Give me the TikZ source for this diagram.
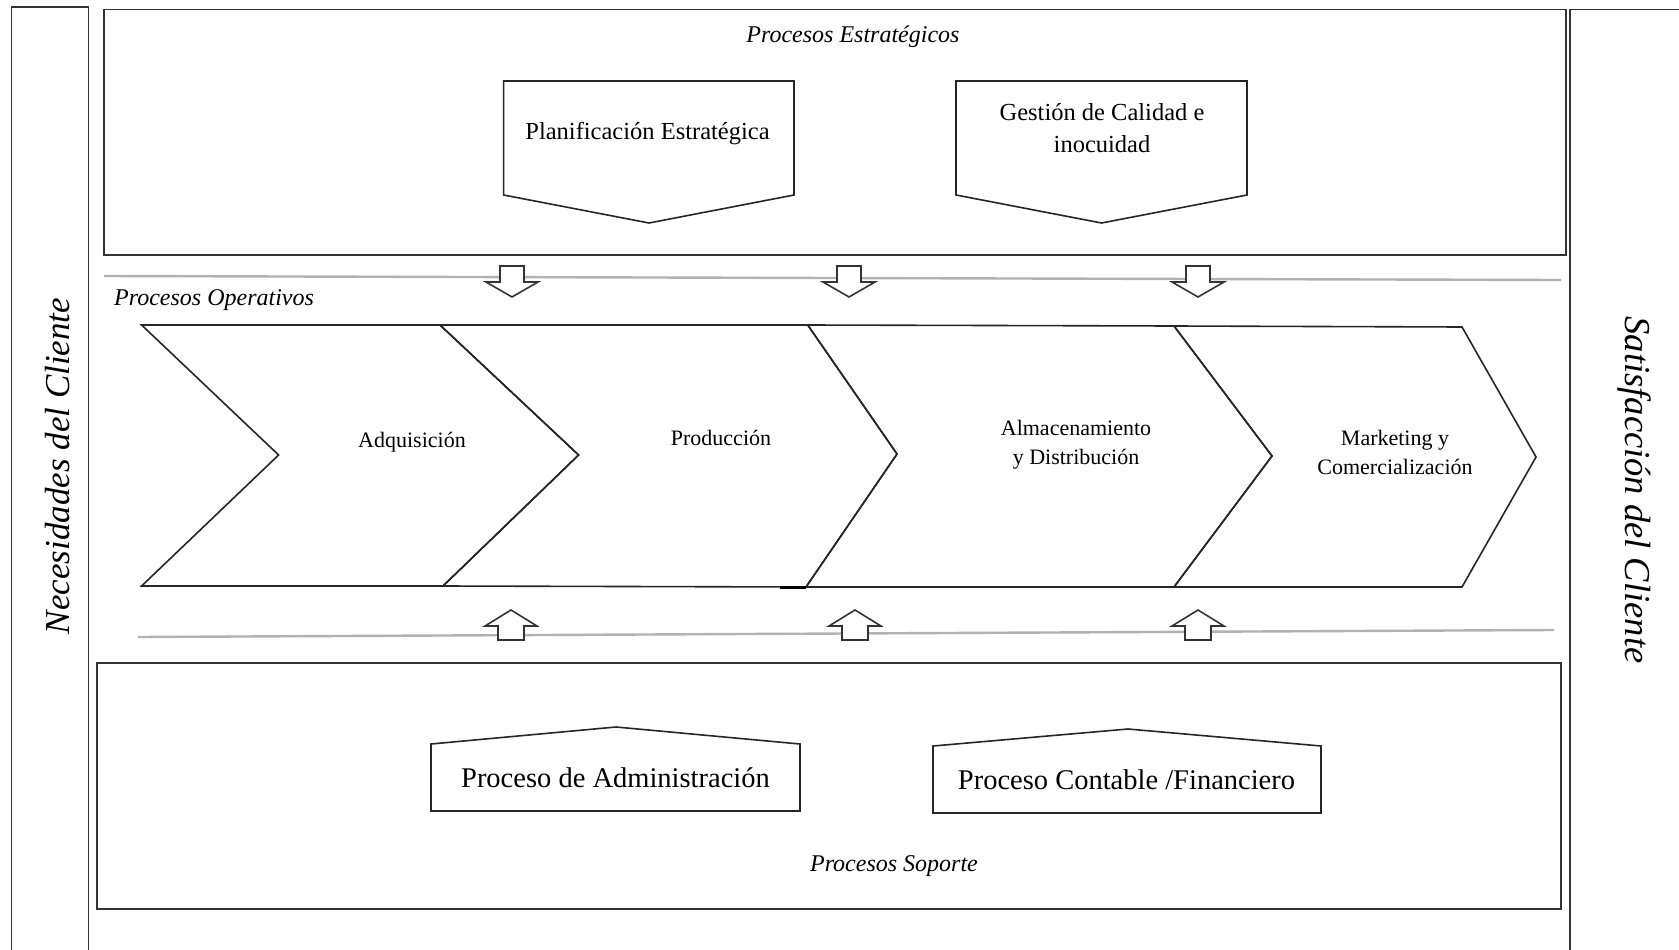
\documentclass[tikz,border=0pt]{standalone}
\usepackage{fontspec}
\setmainfont{Liberation Serif}
\begin{document}
\begin{tikzpicture}[x=1pt,y=-1pt,
  frame/.style={draw=black!80, line width=1.8pt},
  shapeline/.style={draw=black!85, line width=1.6pt, line join=miter},
  guide/.style={draw=black!30, line width=2.4pt},
  blockarrow/.style={draw=black!80, fill=white, line width=1.6pt, line join=miter},
  title/.style={font=\fontsize{24}{29}\selectfont\itshape, inner sep=0pt},
  steplabel/.style={font=\fontsize{22}{29}\selectfont, align=center, inner sep=0pt},
  stratlabel/.style={font=\fontsize{24.5}{32}\selectfont, align=center, inner sep=0pt},
  supportlabel/.style={font=\fontsize{28.5}{34}\selectfont, inner sep=0pt},
  sidelabel/.style={font=\fontsize{35}{40}\selectfont\itshape, inner sep=0pt},
]
\useasboundingbox[fill=white] (0,0) rectangle (1679,950);

% side columns (open at the bottom)
\draw[frame] (11.5,955) -- (11.5,7) -- (88.5,7) -- (88.5,955);
\draw[frame] (1570,955) -- (1570,9.5) -- (1685,9.5);

% strategic and support frames
\draw[frame] (104,9.5) rectangle (1566,255);
\draw[frame] (97,663) rectangle (1561,909);

% grey separators of the operative band
\draw[guide] (104,276) -- (1561,280);
\draw[guide] (138,637) -- (1554,630);

% block arrows down from the strategic band
\foreach \cx in {512,849,1198}
  \draw[blockarrow] (\cx-12,266) -- (\cx+12,266) -- (\cx+12,282) -- (\cx+26,282)
    -- (\cx,297) -- (\cx-26,282) -- (\cx-12,282) -- cycle;

% block arrows up from the support band
\foreach \cx in {511,855,1198}
  \draw[blockarrow] (\cx,610) -- (\cx+26,626) -- (\cx+13,626) -- (\cx+13,640)
    -- (\cx-13,640) -- (\cx-13,626) -- (\cx-26,626) -- cycle;

% strategic processes (pentagons pointing down)
\draw[shapeline] (503.6,81) -- (794,81) -- (794,195) -- (649,223) -- (503.6,195) -- cycle;
\draw[shapeline] (956,81) -- (1247,81) -- (1247,195) -- (1101.5,223) -- (956,195) -- cycle;

% support processes (pentagons pointing up)
\draw[shapeline] (431,744) -- (616,727) -- (800,744) -- (800,811) -- (431,811) -- cycle;
\draw[shapeline] (933,746) -- (1128,729) -- (1321,746) -- (1321,813) -- (933,813) -- cycle;

% operative chain of chevrons
\draw[shapeline] (141.6,325) -- (440,325) -- (578.6,455) -- (443,586) -- (141.6,586) -- (278.6,455) -- cycle;
\draw[shapeline] (440,325) -- (807.7,325) -- (897,454) -- (806,587) -- (443,586) -- (578.6,455) -- cycle;
\draw[shapeline] (807.7,325) -- (1174,326) -- (1272,456) -- (1174,587) -- (806,587) -- (897,454) -- cycle;
\draw[shapeline] (1174,326) -- (1462,327) -- (1536,457) -- (1462,587) -- (1174,587) -- (1272,456) -- cycle;
\draw[draw=black, line width=3pt] (780,587) -- (806,587);

% texts (multi-line labels are placed by the baseline of their last line)
\node[title, anchor=base] (estr) at (853,43) {Procesos Estratégicos};
\node[title, anchor=base west] (oper) at (114,305) {Procesos Operativos};
\node[title, anchor=base] (sop) at (894,871) {Procesos Soporte};

\node[stratlabel, anchor=base] (plan) at (647.5,139) {Planificación Estratégica};
\node[stratlabel, anchor=base] (cal) at (1102,152) {Gestión de Calidad e\\inocuidad};

\node[steplabel, anchor=base] (adq) at (412,447) {Adquisición};
\node[steplabel, anchor=base] (prod) at (721,445) {Producción};
\node[steplabel, anchor=base] (alm) at (1076,464) {Almacenamiento\\y Distribución};
\node[steplabel, anchor=base] (mkt) at (1395,474) {Marketing y\\Comercialización};

\node[supportlabel, anchor=base] (adm) at (615.5,787) {Proceso de Administración};
\node[supportlabel, anchor=base] (cont) at (1126.5,789) {Proceso Contable /Financiero};

\node[sidelabel, rotate=90, anchor=base] (nec) at (69,466) {Necesidades del Cliente};
\node[sidelabel, rotate=-90, anchor=base, font=\fontsize{36.5}{40}\selectfont\itshape] (sat) at (1625,490) {Satisfacción del Cliente};
\end{tikzpicture}
\end{document}
